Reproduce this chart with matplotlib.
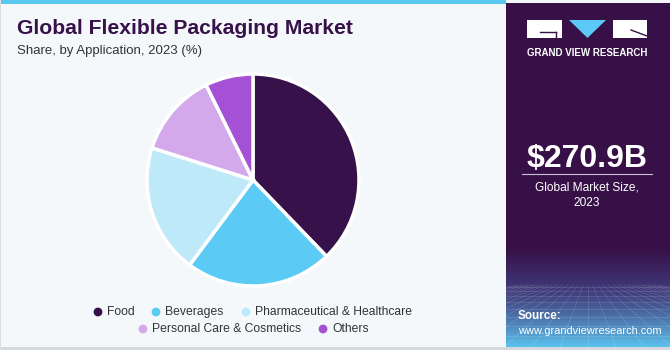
import matplotlib.pyplot as plt
import numpy as np
from matplotlib.patches import Rectangle, Polygon

plt.rcParams['font.family'] = ['Liberation Sans', 'DejaVu Sans']

# data
categories = ['Food', 'Beverages', 'Pharmaceutical & Healthcare',
              'Personal Care & Cosmetics', 'Others']
shares = [37.8, 22.4, 19.7, 12.8, 7.3]
colors = ['#37114A', '#5BCBF5', '#BDE9F9', '#D4A9EC', '#A551D6']
market_size = '$270.9B'

W, H = 670, 350
fig = plt.figure(figsize=(6.7, 3.5), dpi=100)
fig.patch.set_facecolor('#F4F8FB')

# background / frame
bg = fig.add_axes([0, 0, 1, 1])
bg.set_xlim(0, W)
bg.set_ylim(H, 0)
bg.axis('off')
bg.add_patch(Rectangle((0, 0), 506, 4, color='#5BC8F0', lw=0))
bg.add_patch(Rectangle((0, 347), W, 3, color='#D5D8DC', lw=0))
bg.add_patch(Rectangle((0, 0), 1.2, 350, color='#DADDE0', lw=0))

# right panel with gradient bottom
panel = fig.add_axes([506 / W, 3 / H, 164 / W, 344 / H])
panel.axis('off')
top = np.array([0x36, 0x10, 0x47]) / 255
mid = np.array([0x40, 0x38, 0x78]) / 255
bot = np.array([0x5C, 0xC4, 0xF0]) / 255
rows = []
for y in range(344):
    if y < 245:
        c = top
    elif y < 285:
        t = (y - 245) / 40
        c = top * (1 - t) + mid * t
    else:
        t = ((y - 285) / 59) ** 1.2
        c = mid * (1 - t) + bot * t
    rows.append(c)
grad = np.array(rows)[:, None, :].repeat(2, axis=1)
panel.imshow(grad, extent=[0, 164, 344, 0], aspect='auto', zorder=0)
# faint perspective grid
for k in range(-14, 15):
    panel.plot([82 + k * 5, 82 + k * 28], [282, 344], color='white', lw=0.4, alpha=0.2)
for yy in [284, 288, 293, 299, 306, 314, 323, 333]:
    panel.plot([0, 164], [yy, yy], color='white', lw=0.4, alpha=0.2)
panel.set_xlim(0, 164)
panel.set_ylim(344, 0)

# logo
panel.add_patch(Rectangle((21, 17), 35, 18, color='white', lw=0))
panel.add_patch(Polygon([[63, 17], [100, 17], [81.5, 35]], color='#5BC8F5', lw=0))
panel.add_patch(Rectangle((107, 17), 34, 18, color='white', lw=0))
panel.plot([34, 50], [29, 29], color='#361047', lw=1)
panel.plot([50, 50], [29, 35], color='#361047', lw=1)
panel.plot([125, 141], [27, 33], color='#361047', lw=1)
panel.text(81, 50, 'GRAND VIEW RESEARCH', color='white', fontsize=7,
           fontweight='bold', ha='center', va='center')

panel.text(81, 156, market_size, color='white', fontsize=23, fontweight='bold',
           ha='center', va='center')
panel.plot([16, 146], [171, 171], color='#C8C0D0', lw=0.8)
panel.text(81, 185, 'Global Market Size,', color='white', fontsize=8.6,
           ha='center', va='center')
panel.text(81, 200, '2023', color='white', fontsize=8.6, ha='center', va='center')
panel.text(12, 313, 'Source:', color='white', fontsize=8.4, fontweight='bold',
           ha='left', va='center')
panel.text(12, 328, 'www.grandviewresearch.com', color='white', fontsize=7.9,
           ha='left', va='center')

# titles
fig.text(17 / W, 1 - 28 / H, 'Global Flexible Packaging Market', color='#37114A',
         fontsize=15.2, fontweight='bold', ha='left', va='center')
fig.text(17 / W, 1 - 51 / H, 'Share, by Application, 2023 (%)', color='#333333',
         fontsize=9.5, ha='left', va='center')

# pie
cx, cy, r = 253, 180, 106
ax = fig.add_axes([(cx - r) / W, (H - cy - r) / H, 2 * r / W, 2 * r / H])
ax.pie(shares, colors=colors, startangle=90, counterclock=False,
       wedgeprops=dict(edgecolor='white', linewidth=2.5))
ax.set_xlim(-1, 1)
ax.set_ylim(-1, 1)
ax.axis('off')

# legend, drawn item by item
leg_x = [98, 156, 246, 143, 323]
leg_y = [312, 312, 312, 329, 329]
for name, c, lx, ly in zip(categories, colors, leg_x, leg_y):
    bg.scatter([lx], [ly], s=40, color=c, edgecolors='none')
    bg.text(lx + 9, ly, name, fontsize=8.7, color='#333333', ha='left', va='center')

fig.savefig('out.png', dpi=100, facecolor=fig.get_facecolor())
